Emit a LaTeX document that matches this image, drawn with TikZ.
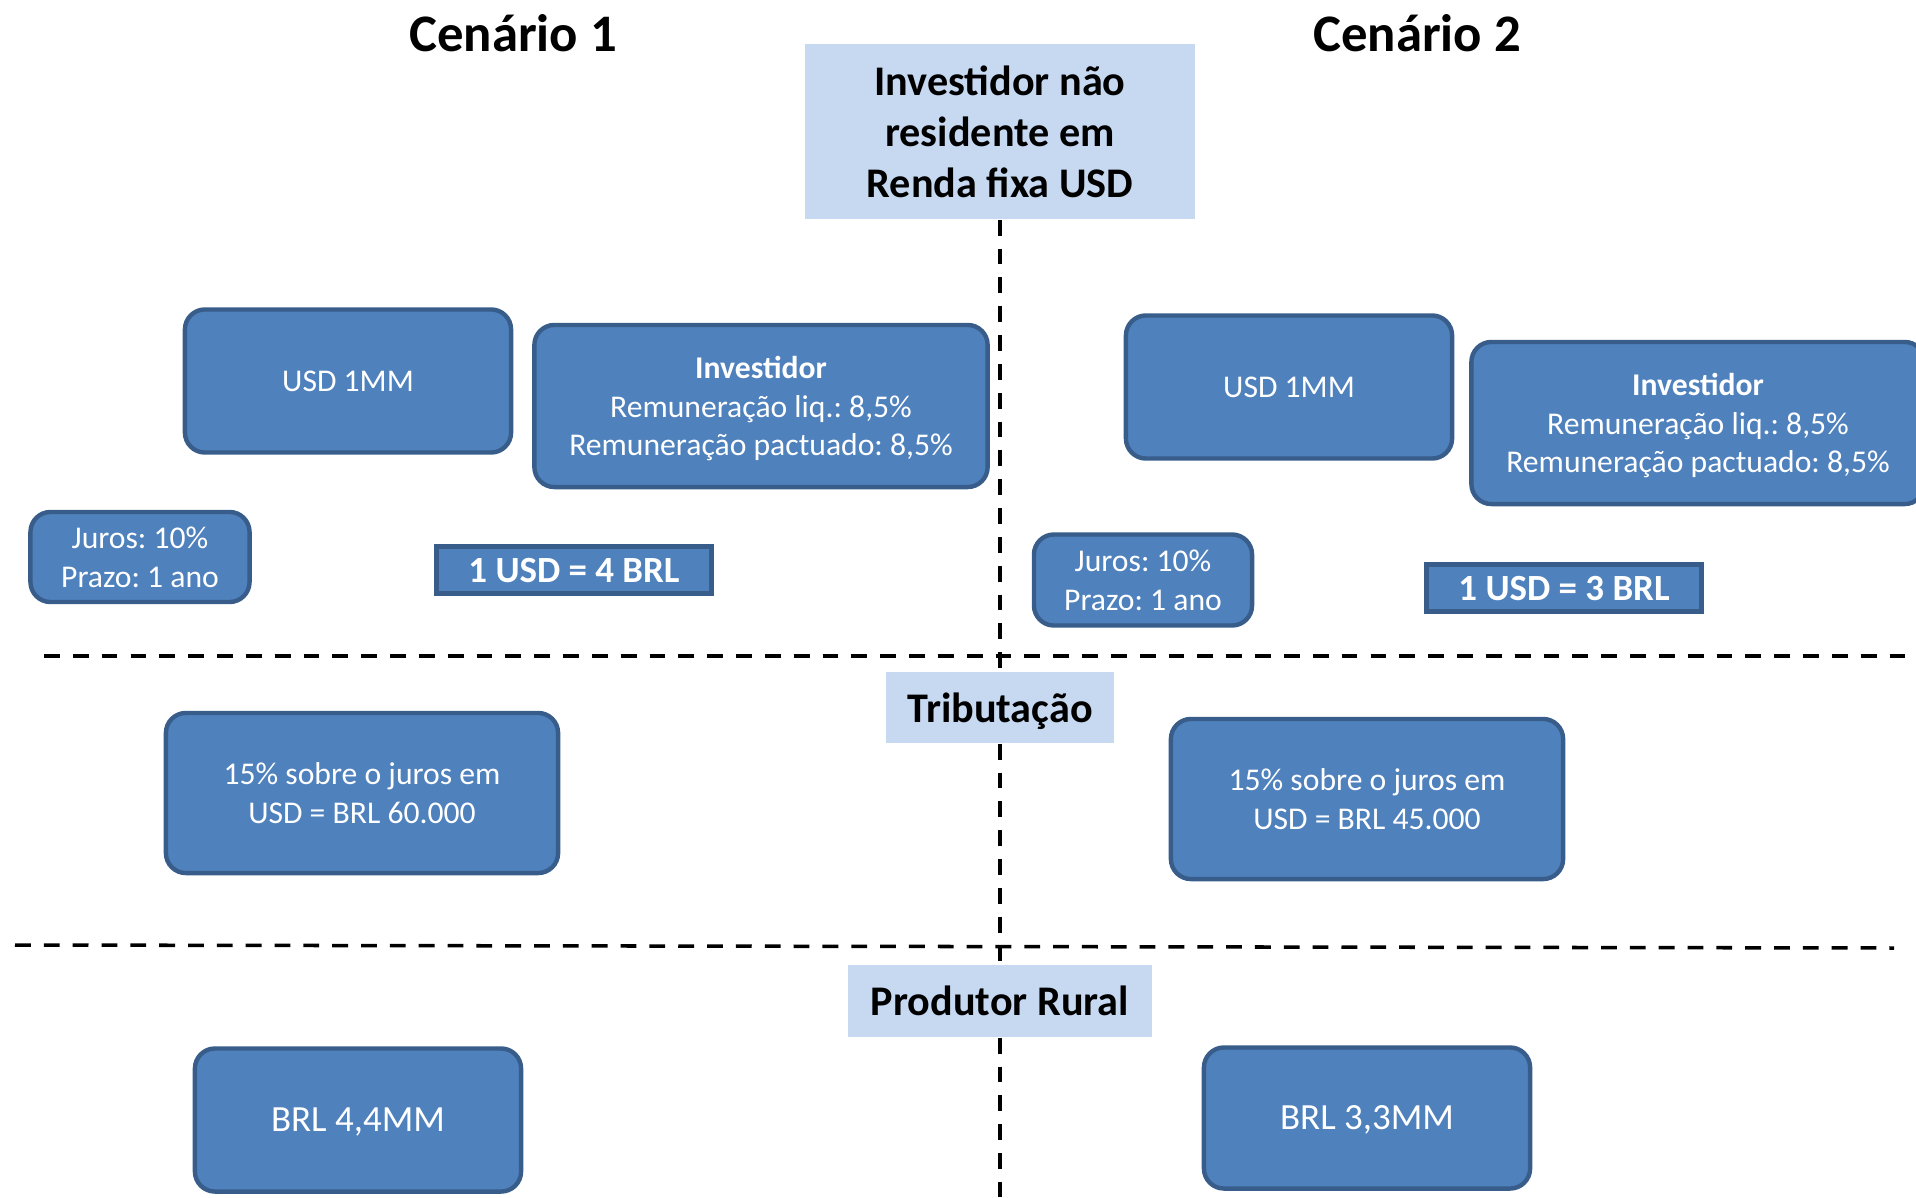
\documentclass[tikz,border=0pt]{standalone}
\usepackage{fontspec}
\setmainfont{Carlito}
\frenchspacing
\definecolor{boxfill}{HTML}{4F81BD}
\definecolor{boxline}{HTML}{385D8A}
\definecolor{headfill}{HTML}{C6D9F1}
\begin{document}
\begin{tikzpicture}[x=0.01cm, y=-0.01cm,
  valuebox/.style={draw=boxline, fill=boxfill, line width=1.25pt, rounded corners=0.2cm,
    text=white, align=center, inner sep=0pt, text depth=0pt, font=\fontsize{9}{11}\selectfont},
  ratebox/.style={draw=boxline, fill=boxfill, line width=1.25pt, text=white, inner sep=0pt,
    text depth=0pt, minimum width=2.75cm, minimum height=0.47cm, font=\bfseries\fontsize{10.5}{12}\selectfont},
  headbox/.style={fill=headfill, align=center, inner sep=0pt, text depth=0pt,
    font=\bfseries\fontsize{12}{14.5}\selectfont},
  divider/.style={line width=1pt, dash pattern=on 4.5pt off 3.7pt}]
\useasboundingbox (0,0) rectangle (1916,1197);

% column titles
\node[font=\bfseries\fontsize{15}{18}\selectfont] (cenA) at (513,33) {Cenário 1};
\node[font=\bfseries\fontsize{15}{18}\selectfont] (cenB) at (1417,33) {Cenário 2};

% section labels
\node[headbox, minimum width=3.89cm, minimum height=1.75cm] (top) at (1000,131.5)
  {Investidor não\\residente em\\Renda fixa USD};
\node[headbox, minimum width=2.28cm, minimum height=0.71cm] (trib) at (1000,707.5) {Tributação};
\node[headbox, minimum width=3.03cm, minimum height=0.72cm] (rural) at (1000,1001) {Produtor Rural};
\coordinate (vend) at (1000,1197);

% dividers
\coordinate (divAw) at (44,656);  \coordinate (divAe) at (1916,656);
\coordinate (divBw) at (15,945);  \coordinate (divBe) at (1894,948);
\draw[divider] (divAw) -- (divAe);
\draw[divider] (divBw) -- (divBe);
\draw[divider] (top.south) -- (trib.north);
\draw[divider] (trib.south) -- (rural.north);
\draw[divider] (rural.south) -- (vend);

% scenario 1
\node[valuebox, minimum width=3.26cm, minimum height=1.43cm] (usdA) at (348,381) {USD 1MM};
\node[valuebox, minimum width=4.53cm, minimum height=1.62cm] (invA) at (761,406)
  {\textbf{Investidor}\\Remuneração liq.: 8,5\%\\Remuneração pactuado: 8,5\%};
\node[valuebox, minimum width=2.19cm, minimum height=0.9cm] (jurA) at (140,557) {Juros: 10\%\\Prazo: 1 ano};
\node[ratebox] (rateA) at (574,570) {1 USD = 4 BRL};
\node[valuebox, minimum width=3.92cm, minimum height=1.6cm] (taxA) at (362,793)
  {15\% sobre o juros em\\USD = BRL 60.000};
\node[valuebox, minimum width=3.26cm, minimum height=1.43cm, font=\fontsize{10.5}{12}\selectfont] (rurA) at (358,1120) {BRL 4,4MM};

% scenario 2
\node[valuebox, minimum width=3.26cm, minimum height=1.43cm] (usdB) at (1289,387) {USD 1MM};
\node[valuebox, minimum width=4.53cm, minimum height=1.62cm] (invB) at (1698,423)
  {\textbf{Investidor}\\Remuneração liq.: 8,5\%\\Remuneração pactuado: 8,5\%};
\node[valuebox, minimum width=2.18cm, minimum height=0.91cm] (jurB) at (1143,580) {Juros: 10\%\\Prazo: 1 ano};
\node[ratebox] (rateB) at (1564,588) {1 USD = 3 BRL};
\node[valuebox, minimum width=3.92cm, minimum height=1.6cm] (taxB) at (1367,799)
  {15\% sobre o juros em\\USD = BRL 45.000};
\node[valuebox, minimum width=3.26cm, minimum height=1.41cm, font=\fontsize{10.5}{12}\selectfont] (rurB) at (1367,1118) {BRL 3,3MM};
\end{tikzpicture}
\end{document}
